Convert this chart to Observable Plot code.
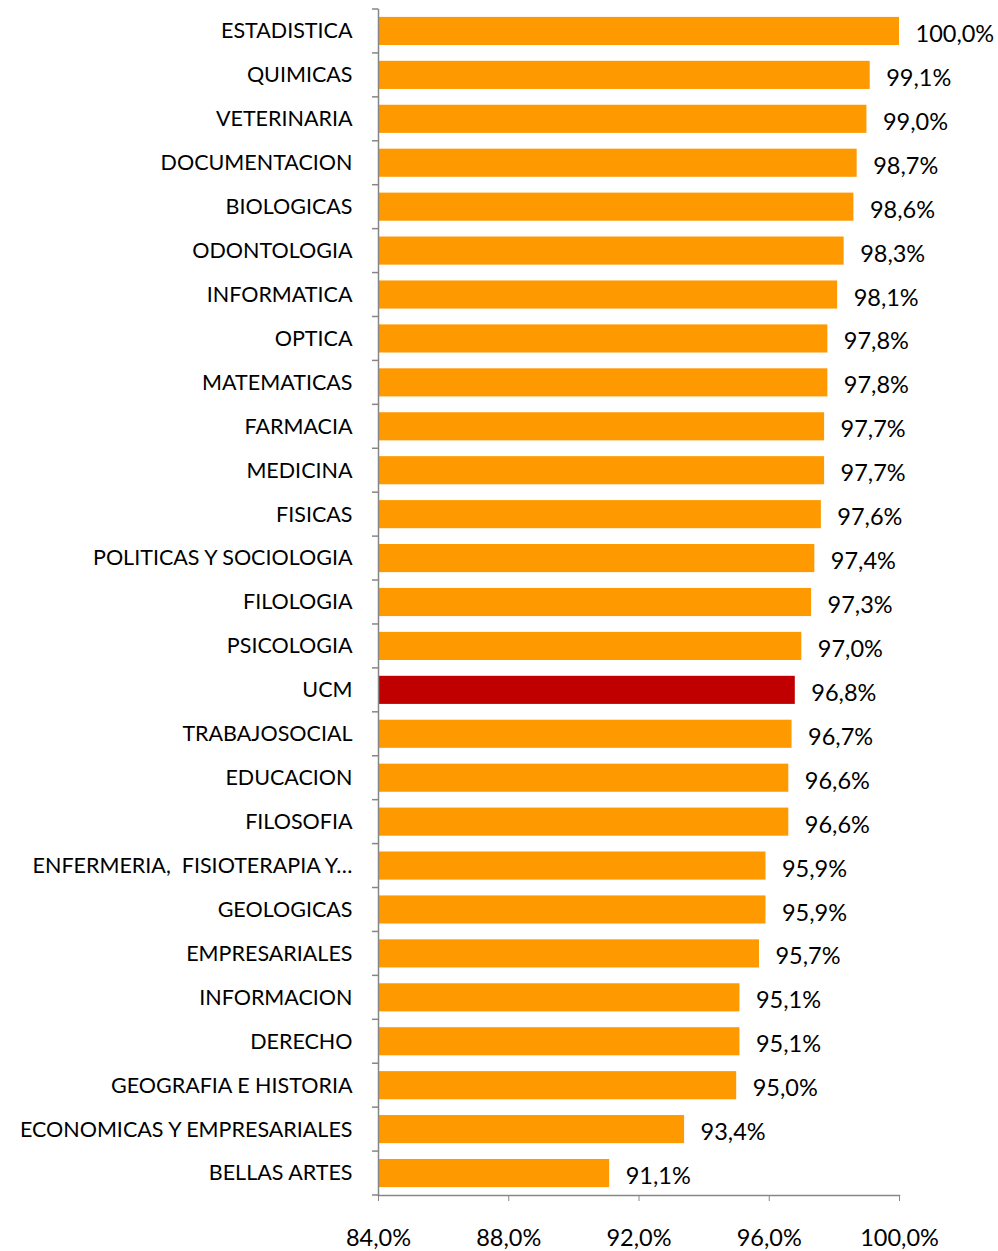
<!DOCTYPE html>
<html>
<head>
<meta charset="utf-8">
<script src="https://cdn.jsdelivr.net/npm/d3@7"></script>
<script src="https://cdn.jsdelivr.net/npm/@observablehq/plot@0.6"></script>
<style>
  html, body { margin: 0; padding: 0; background: #fff; }
  #chart svg { display: block; }
</style>
</head>
<body>
<div id="chart"></div>
<script>
const categories = [
  "ESTADISTICA", "QUIMICAS", "VETERINARIA", "DOCUMENTACION", "BIOLOGICAS",
  "ODONTOLOGIA", "INFORMATICA", "OPTICA", "MATEMATICAS", "FARMACIA",
  "MEDICINA", "FISICAS", "POLITICAS Y SOCIOLOGIA", "FILOLOGIA", "PSICOLOGIA",
  "UCM", "TRABAJOSOCIAL", "EDUCACION", "FILOSOFIA", "ENFERMERIA,  FISIOTERAPIA Y…",
  "GEOLOGICAS", "EMPRESARIALES", "INFORMACION", "DERECHO", "GEOGRAFIA E HISTORIA",
  "ECONOMICAS Y EMPRESARIALES", "BELLAS ARTES"
];
const values = [
  100.0, 99.1, 99.0, 98.7, 98.6,
  98.3, 98.1, 97.8, 97.8, 97.7,
  97.7, 97.6, 97.4, 97.3, 97.0,
  96.8, 96.7, 96.6, 96.6, 95.9,
  95.9, 95.7, 95.1, 95.1, 95.0,
  93.4, 91.1
];
const highlight = "UCM";
const xTicks = [84, 88, 92, 96, 100];

const data = categories.map((c, i) => ({category: c, value: values[i]}));
const fmt = v => v.toFixed(1).replace(".", ",") + "%";
const FONT = "Lato, 'Noto Sans', sans-serif";
const AXIS = "#868686";

const plot = Plot.plot({
  width: 998,
  height: 1251,
  marginLeft: 378,
  marginRight: 99,
  marginTop: 9,
  marginBottom: 56,
  style: {fontFamily: FONT, fontSize: "21.5px", color: "#000", background: "#fff"},
  x: {domain: [84, 100]},
  y: {domain: categories, paddingInner: 0.36, paddingOuter: 0.18, round: false},
  marks: [
    Plot.barX(data, {
      x1: 84, x2: "value", y: "category",
      fill: d => d.category === highlight ? "#C00000" : "#FF9900"
    }),
    Plot.text(data, {
      x: "value", y: "category", text: d => fmt(d.value),
      textAnchor: "start", dx: 16, dy: 3, fill: "#000", fontSize: 23.5
    }),
    Plot.frame({anchor: "left", stroke: AXIS, strokeWidth: 1.5}),
    Plot.frame({anchor: "bottom", stroke: AXIS, strokeWidth: 1.5}),
    Plot.axisY({tickSize: 0, tickPadding: 26, label: null, fontSize: 21.5}),
    Plot.axisX({ticks: xTicks, tickFormat: fmt, tickSize: 6, tickPadding: 28,
                label: null, stroke: AXIS, fontSize: 23.5, color: "#000"})
  ]
});

// Category-boundary tick marks on the left axis, derived from the y band scale
const ys = plot.scale("y");
const xs = plot.scale("x");
const step = ys.step !== undefined ? ys.step : (ys.bandwidth / (1 - 0.36));
const xLeft = xs.apply(84);
const bounds = categories.map(c => ys.apply(c) + ys.bandwidth / 2 - step / 2);
bounds.push(bounds[bounds.length - 1] + step);
d3.select(plot).append("g")
  .attr("stroke", AXIS).attr("stroke-width", 1.5)
  .selectAll("line").data(bounds).join("line")
  .attr("x1", xLeft - 6).attr("x2", xLeft)
  .attr("y1", d => d).attr("y2", d => d);

d3.select(plot).selectAll("text").attr("fill", "#000");

document.getElementById("chart").appendChild(plot);
</script>
</body>
</html>
